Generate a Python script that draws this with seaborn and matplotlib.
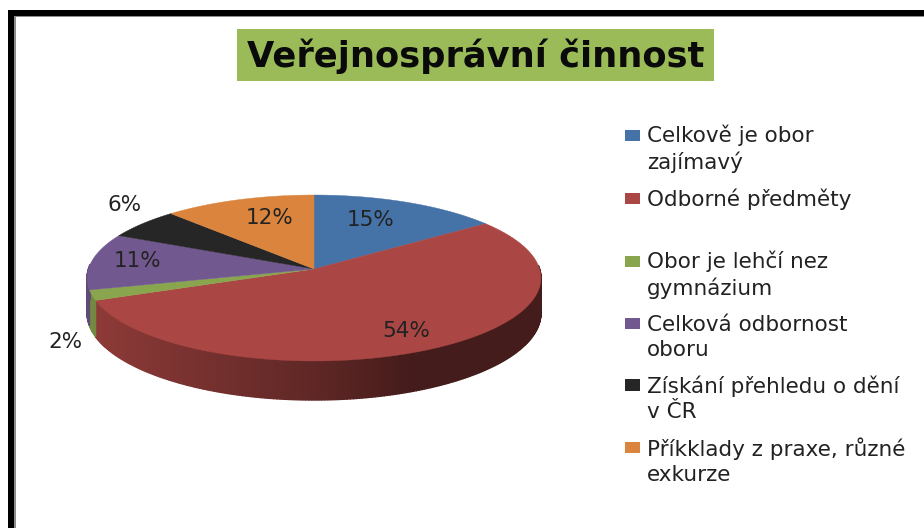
import numpy as np
import seaborn as sns
import matplotlib
matplotlib.use("Agg")
import matplotlib.pyplot as plt
from matplotlib.patches import Rectangle
from matplotlib.legend_handler import HandlerPatch

title = "Veřejnosprávní činnost"
categories = ["Celkově je obor\nzajímavý", "Odborné předměty\n ", "Obor je lehčí nez\ngymnázium",
              "Celková odbornost\noboru", "Získání přehledu o dění\nv ČR", "Příkklady z praxe, různé\nexkurze"]
values = [15, 54, 2, 11, 6, 12]
colors = ["#4572A7", "#AA4643", "#89A54E", "#71588F", "#262626", "#DB843D"]

# layout (figure pixels)
HUB = (314, 269)
A, B, C = 82.0, 225.6, 0.1084   # perspective of the tilted disc
DEPTH = 34.8
label_xy = [(371, 220), (406, 331), (65, 342), (137, 261), (125, 205), (270, 218)]

sns.set_theme(style="white")
plt.rcParams["font.family"] = ["DejaVu Sans"]
palette = sns.color_palette(colors)

fig = plt.figure(figsize=(9.24, 5.28), dpi=100)
ax = fig.add_axes([0, 0, 1, 1])
ax.set_xlim(0, 924)
ax.set_ylim(528, 0)
ax.axis("off")

def project(theta):
    x, y = np.cos(theta), np.sin(theta)
    d = 1 + C * y
    return HUB[0] + B * x / d, HUB[1] - A * y / d, DEPTH / d

# frame
ax.add_patch(Rectangle((8, 10), 916, 5.5, color="black", lw=0))
ax.add_patch(Rectangle((8, 10), 6, 518, color="black", lw=0))
ax.add_patch(Rectangle((14, 15.5), 910, 1, color="#8c8c8c", lw=0))
ax.add_patch(Rectangle((14, 15.5), 2, 513, color="#8c8c8c", lw=0))

# slice angles: clockwise from twelve o'clock
edges = np.pi / 2 - 2 * np.pi * np.cumsum([0] + values) / sum(values)

def wall_shade(x):
    t = (x - 87) / 453
    return np.interp(t, [0, 0.5, 0.72, 1], [0.84, 0.56, 0.40, 0.40])

# side wall
for i, col in enumerate(palette):
    ts = np.linspace(edges[i], edges[i + 1], max(3, int(values[i] * 5)))
    for t0, t1 in zip(ts[:-1], ts[1:]):
        if np.sin((t0 + t1) / 2) > 0.05:
            continue
        x0, y0, d0 = project(t0)
        x1, y1, d1 = project(t1)
        shade = tuple(c * wall_shade((x0 + x1) / 2) for c in col)
        ax.fill([x0, x1, x1, x0], [y0, y1, y1 + d1, y0 + d0],
                facecolor=shade, edgecolor=shade, lw=1.0, zorder=2)

# top face
for i, col in enumerate(palette):
    ts = np.linspace(edges[i], edges[i + 1], 120)
    xs, ys, _ = project(ts)
    ax.fill(np.r_[HUB[0], xs], np.r_[HUB[1], ys], color=col, lw=0.3, zorder=3)

# percentage labels
for v, (x, y) in zip(values, label_xy):
    ax.text(x, y, f"{v}%", ha="center", va="center", fontsize=15.5, color="#222222", zorder=5)

# title
ax.add_patch(Rectangle((237, 29), 477, 52, color="#9BBB59", lw=0, zorder=1))
ax.text(475.5, 56, title, ha="center", va="center", fontsize=25.4, fontweight="bold", color="#0a0a0a", zorder=5)

class TopHandle(HandlerPatch):
    def create_artists(self, legend, orig, xdescent, ydescent, width, height, fontsize, trans):
        r = Rectangle((-xdescent, -ydescent + 11.5), width, 8, facecolor=orig.get_facecolor(), lw=0, transform=trans)
        return [r]

handles = [Rectangle((0, 0), 1, 1, facecolor=c) for c in palette]
leg = ax.legend(handles, categories, loc="upper left", bbox_to_anchor=(625, 125), bbox_transform=ax.transData,
                frameon=False, fontsize=15.5, borderpad=0, borderaxespad=0, handlelength=0.7, handletextpad=0.33,
                labelspacing=0.72, handler_map={Rectangle: TopHandle()}, labelcolor="#222222")
for t in leg.get_texts():
    t.set_linespacing(1.31)
leg.set_zorder(6)

fig.savefig("out.png", dpi=100)
